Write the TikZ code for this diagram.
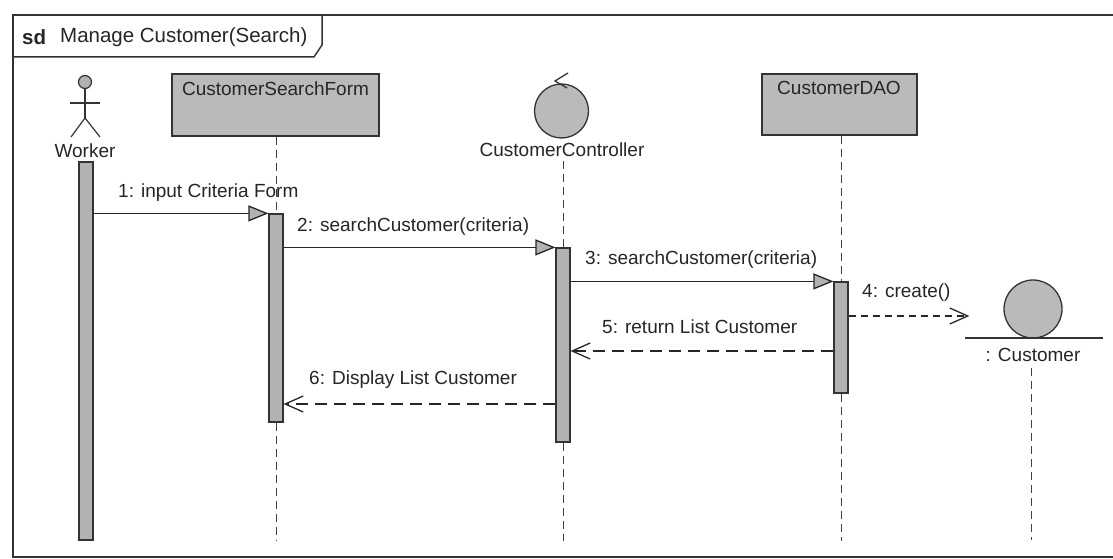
\documentclass[tikz,border=0pt]{standalone}
\usepackage{fontspec}
\setmainfont{Liberation Sans}
\usetikzlibrary{arrows.meta}

\begin{document}
\begin{tikzpicture}[x=1pt, y=-1pt,
    frame/.style={draw=black!80, line width=1.5pt},
    lbl/.style={font=\fontsize{19}{22}\selectfont, text=black!85, inner sep=0pt},
    objbox/.style={draw=black!80, line width=1.3pt, fill=black!27},
    actbar/.style={draw=black!80, line width=1.2pt, fill=black!30, minimum width=14pt, inner sep=0pt},
    lifeline/.style={draw=black!75, line width=0.9pt, dash pattern=on 8pt off 5pt},
    callmsg/.style={draw=black!85, line width=1.3pt, -{Triangle[length=20pt, width=16pt, fill=black!30]}},
    replymsg/.style={draw=black!85, line width=1.3pt, dash pattern=on 12pt off 7pt, -{Straight Barb[length=18pt, width=16pt]}}]
      \fill[white] (0,0) rectangle (1113,559);
      \useasboundingbox (0,0) rectangle (1113,559);

      % Frame and its tab
      \draw[frame] (1113,15) -- (13,15) -- (13,557) -- (1113,557);
      \draw[frame] (13,57) -- (314,57) -- (322,45) -- (322,15);
      \node[lbl, font=\fontsize{20.5}{24}\selectfont\bfseries, anchor=west] (sd) at (22,37) {sd};
      \node[lbl, font=\fontsize{20.5}{24}\selectfont, anchor=west] (title) at (60,37) {Manage Customer(Search)};

      % Worker (actor)
      \node[circle, draw=black!80, line width=1.2pt, fill=black!30, minimum size=13pt, inner sep=0pt] (head) at (85,82) {};
      \draw[black!80, line width=1.2pt] (head.south) -- (85,118) coordinate (hip);
      \draw[black!80, line width=1.2pt] (70,103) -- (100,103);
      \draw[black!80, line width=1.2pt] (71,137) -- (hip) -- (100,137);
      \node[lbl] (worker) at (85,151) {Worker};
      \node[actbar, minimum height=378pt] (wbar) at (86,351) {};

      % CustomerSearchForm
      \node[objbox, minimum width=207pt, minimum height=62pt] (form) at (275.5,105) {};
      \node[lbl] (formlbl) at (275.5,89) {CustomerSearchForm};
      \node[actbar, minimum height=208pt] (fbar) at (276,318) {};
      \draw[lifeline] (form.south -| fbar) -- (fbar.north);
      \draw[lifeline] (fbar.south) -- (fbar.south |- wbar.south);

      % CustomerController
      \node[circle, draw=black!80, line width=1.3pt, fill=black!27, minimum size=54pt, inner sep=0pt] (ctrl) at (561.5,111) {};
      \draw[black!80, line width=1.3pt] (568,73) -- (555,81) -- (567,88);
      \node[lbl] (ctrllbl) at (562,150) {CustomerController};
      \node[actbar, minimum height=194pt] (cbar) at (563,345) {};
      \draw[lifeline] (ctrllbl.south -| cbar) ++(0,4) -- (cbar.north);
      \draw[lifeline] (cbar.south) -- (cbar.south |- wbar.south);

      % CustomerDAO
      \node[objbox, minimum width=155pt, minimum height=61pt] (dao) at (839.5,104.5) {};
      \node[lbl] (daolbl) at (839,88) {CustomerDAO};
      \node[actbar, minimum height=111pt] (dbar) at (841,337.5) {};
      \draw[lifeline] (dao.south -| dbar) -- (dbar.north);
      \draw[lifeline] (dbar.south) -- (dbar.south |- wbar.south);

      % Customer (entity)
      \node[circle, draw=black!80, line width=1.3pt, fill=black!27, minimum size=58pt, inner sep=0pt] (cust) at (1033,309) {};
      \draw[black!80, line width=1.5pt] (965,338) -- (1103,338);
      \node[lbl] (custlbl) at (1033,355) {: Customer};
      \draw[lifeline] (1031,368) -- (1031,540);

      % Messages
      \draw[callmsg] (wbar.east |- fbar.north) -- (fbar.north west);
      \node[lbl, anchor=west] (m1) at (118,193) {1: input Criteria Form};
      \draw[callmsg] (fbar.east |- cbar.north) -- (cbar.north west);
      \node[lbl, anchor=west] (m2) at (297,227) {2: searchCustomer(criteria)};
      \draw[callmsg] (cbar.east |- dbar.north) -- (dbar.north west);
      \node[lbl, anchor=west] (m3) at (585,260) {3: searchCustomer(criteria)};
      \draw[replymsg, dash pattern=on 7pt off 5pt, shorten >=34pt] (dbar.east |- 0,316) -- (cust.west |- 0,316);
      \node[lbl, anchor=west] (m4) at (862,293) {4: create()};
      \draw[replymsg] (dbar.west |- 0,351) -- (cbar.east |- 0,351);
      \node[lbl, anchor=west] (m5) at (602,327) {5: return List Customer};
      \draw[replymsg] (cbar.west |- 0,404) -- (fbar.east |- 0,404);
      \node[lbl, anchor=west] (m6) at (309,380) {6: Display List Customer};
    \end{tikzpicture}
\end{document}
